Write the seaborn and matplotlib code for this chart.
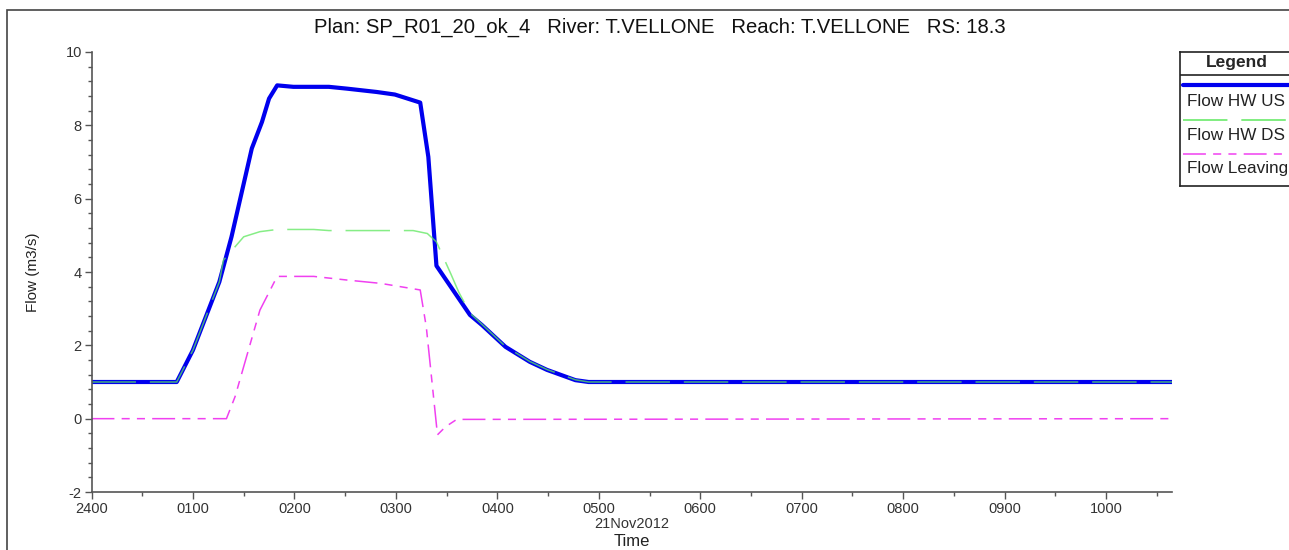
import pandas as pd
import matplotlib.pyplot as plt
import seaborn as sns
from matplotlib.ticker import MultipleLocator, FixedLocator
from matplotlib.patches import Rectangle
from matplotlib.lines import Line2D

# hours after 2400 on 20Nov2012, flow in m3/s
hrs_us = [0.0, 0.84, 1.00, 1.26, 1.38, 1.58, 1.68, 1.75, 1.83, 1.99, 2.34, 2.52,
          2.81, 2.99, 3.24, 3.32, 3.40, 3.73, 3.85, 4.08, 4.32, 4.49, 4.77, 4.90, 10.65]
flow_us = [1.0, 1.0, 1.87, 3.73, 4.96, 7.37, 8.09, 8.73, 9.09, 9.05, 9.05, 9.0,
           8.91, 8.84, 8.62, 7.14, 4.17, 2.83, 2.55, 1.96, 1.55, 1.33, 1.05, 1.0, 1.0]

hrs_ds = [0.0, 0.84, 1.00, 1.26, 1.30, 1.50, 1.66, 1.83, 2.19, 2.34, 3.17, 3.31,
          3.40, 3.54, 3.62, 3.73, 3.85, 4.08, 4.32, 4.49, 4.77, 4.90, 10.65]
flow_ds = [1.0, 1.0, 1.87, 3.73, 4.32, 4.96, 5.10, 5.16, 5.16, 5.13, 5.13, 5.05,
           4.82, 3.96, 3.45, 2.88, 2.57, 1.97, 1.56, 1.34, 1.06, 1.0, 1.0]

hrs_lv = [0.0, 1.33, 1.415, 1.66, 1.83, 2.19, 2.52, 2.85, 3.24, 3.30, 3.41, 3.49, 3.60, 10.65]
flow_lv = [0.0, 0.0, 0.60, 2.96, 3.88, 3.88, 3.78, 3.69, 3.51, 2.50, -0.44, -0.22, -0.02, 0.0]

series = ["Flow HW US", "Flow HW DS", "Flow Leaving"]
colors = {"Flow HW US": "#0000ee", "Flow HW DS": "#5ee85e", "Flow Leaving": "#f040f0"}
widths = {"Flow HW US": 3.0, "Flow HW DS": 1.1, "Flow Leaving": 1.1}
dash_styles = {"Flow HW US": "", "Flow HW DS": (32, 10), "Flow Leaving": (16.5, 5.2, 5.8, 5.2, 5.8, 5.2)}

tick_hours = list(range(11))
tick_labels = ["2400", "0100", "0200", "0300", "0400", "0500", "0600", "0700", "0800", "0900", "1000"]

dados = pd.concat([
    pd.DataFrame({"hora": hrs_us, "vazao": flow_us, "serie": series[0]}),
    pd.DataFrame({"hora": hrs_ds, "vazao": flow_ds, "serie": series[1]}),
    pd.DataFrame({"hora": hrs_lv, "vazao": flow_lv, "serie": series[2]}),
], ignore_index=True)

sns.set_style("ticks")
plt.rcParams["font.family"] = ["Liberation Sans", "DejaVu Sans"]
plt.rcParams["lines.scale_dashes"] = False
plt.rcParams["axes.unicode_minus"] = False

fig = plt.figure(figsize=(12.89, 5.5), dpi=100)
ax = fig.add_axes([91.5 / 1289, 58 / 550, (1172 - 91.5) / 1289, 440 / 550])

sns.lineplot(data=dados, x="hora", y="vazao", hue="serie", style="serie", size="serie",
             hue_order=series, style_order=series, size_order=series,
             palette=colors, dashes=dash_styles, sizes=widths,
             estimator=None, sort=False, legend=False, ax=ax)
# green drawn a bit transparent so it mixes with the blue where they overlap
ax.lines[1].set_alpha(0.75)

ax.set_xlim(0, 10.65)
ax.set_ylim(-2, 10)
ax.xaxis.set_major_locator(FixedLocator(tick_hours))
ax.set_xticklabels(tick_labels)
ax.xaxis.set_minor_locator(MultipleLocator(0.5))
ax.yaxis.set_major_locator(MultipleLocator(2))
ax.yaxis.set_minor_locator(MultipleLocator(0.4))
ax.tick_params(which="major", length=5, width=1, color="#555555", labelcolor="#333333",
               labelsize=10.5, pad=2)
ax.tick_params(which="minor", length=3, width=1, color="#555555")
for s in ["top", "right"]:
    ax.spines[s].set_visible(False)
for s in ["left", "bottom"]:
    ax.spines[s].set_color("#555555")
    ax.spines[s].set_linewidth(1.2)

ax.set_xlabel("Time", fontsize=12, color="#222222", labelpad=13)
ax.set_ylabel("Flow (m3/s)", fontsize=11, color="#222222", labelpad=18)
ax.text(0.5, -0.056, "21Nov2012", transform=ax.transAxes, ha="center", va="top",
        fontsize=10.5, color="#333333")

fig.text(660 / 1289, 1 - 27 / 550, "Plan: SP_R01_20_ok_4   River: T.VELLONE   Reach: T.VELLONE   RS: 18.3",
         ha="center", va="center", fontsize=14.6, color="#111111")

# outer frame of the window (only top and left edges visible)
fig.add_artist(Rectangle((7 / 1289, -0.2), 2.0, 1.2 - 10 / 550, transform=fig.transFigure,
                         fill=False, edgecolor="#444444", linewidth=1.2))

# legend box in the HEC-RAS style: sample line above each label
lg = fig.add_axes([1180 / 1289, 1 - 186 / 550, 115 / 1289, 134 / 550])
lg.set_xlim(0, 115)
lg.set_ylim(134, 0)
lg.set_xticks([])
lg.set_yticks([])
for s in lg.spines.values():
    s.set_color("#222222")
    s.set_linewidth(1.2)
lg.axhline(23, color="#222222", linewidth=1.2)
lg.text(57, 11, "Legend", ha="center", va="center", fontsize=12.5, fontweight="bold")
sample_y = [33, 68, 102]
label_y = [50, 83, 117]
for nome, yl, yt in zip(series, sample_y, label_y):
    ln = Line2D([3, 112], [yl, yl], color=colors[nome], linewidth=widths[nome])
    if dash_styles[nome]:
        ln.set_dashes(dash_styles[nome])
    lg.add_line(ln)
    lg.text(7, yt, nome, ha="left", va="center", fontsize=12.3, color="#222222")

fig.savefig("out.png", dpi=100)
